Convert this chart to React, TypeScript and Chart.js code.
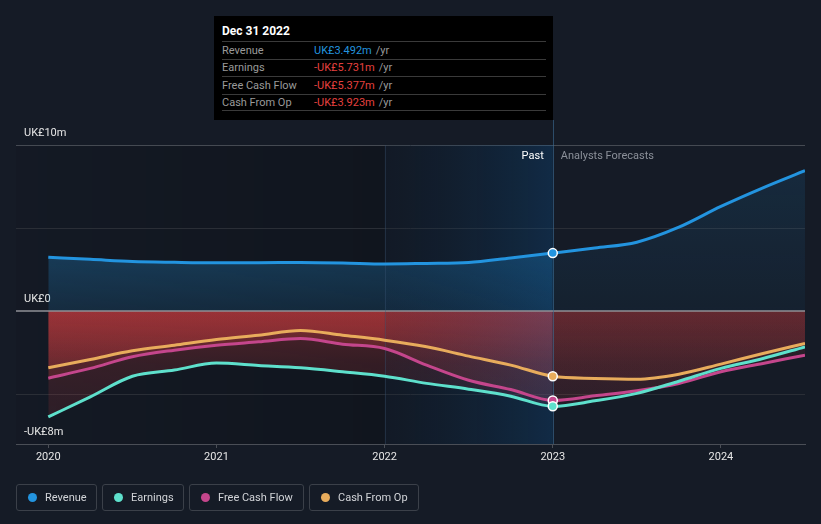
import React, { useEffect, useRef } from "react";
import { Chart, registerables } from "chart.js";

Chart.register(...registerables);

// ---------- data ----------
const years = [
  2020, 2020.25, 2020.5, 2020.75, 2021, 2021.25, 2021.5, 2021.75, 2022, 2022.25,
  2022.5, 2022.75, 2023, 2023.25, 2023.5, 2023.75, 2024, 2024.25, 2024.5,
];
const revenue = [
  3.24, 3.12, 2.99, 2.94, 2.91, 2.91, 2.93, 2.9, 2.84, 2.87, 2.92, 3.2, 3.492,
  3.8, 4.15, 5.05, 6.3, 7.42, 8.45,
];
const earnings = [
  -6.37, -5.16, -3.92, -3.55, -3.13, -3.27, -3.41, -3.65, -3.92, -4.35, -4.7,
  -5.12, -5.731, -5.4, -4.95, -4.22, -3.45, -2.85, -2.15,
];
const freeCashFlow = [
  -4.04, -3.45, -2.75, -2.35, -2.05, -1.85, -1.65, -1.99, -2.25, -3.25, -4.16,
  -4.72, -5.377, -5.1, -4.8, -4.36, -3.65, -3.15, -2.65,
];
const cashFromOp = [
  -3.41, -2.91, -2.39, -2.05, -1.71, -1.45, -1.16, -1.45, -1.75, -2.15, -2.71,
  -3.25, -3.923, -4.05, -4.1, -3.8, -3.19, -2.55, -1.95,
];
const seriesNames = ["Revenue", "Earnings", "Free Cash Flow", "Cash From Op"];
const seriesColors = ["#2394df", "#5ee0cc", "#c4468c", "#e8ac5c"];
const xTicks = [2020, 2021, 2022, 2023, 2024];
const yTicks = [-8, -5, 0, 5, 10];
const yTickLabels: Record<string, string> = { "10": "UK£10m", "0": "UK£0", "-8": "-UK£8m" };
const xMin = 2019.808;
const xMax = 2024.5;
const yMin = -8;
const yMax = 10;
const highlightStart = 2022;
const presentYear = 2023;
const tooltipTitle = "Dec 31 2022";

const allSeries = [revenue, earnings, freeCashFlow, cashFromOp];
const presentIdx = years.indexOf(presentYear);
const legendBoxWidths = [81, 82, 115, 110];

function fmt(v: number) {
  const s = "UK£" + Math.abs(v).toFixed(3) + "m";
  return v < 0 ? "-" + s : s;
}

const FONT = "Roboto, 'Open Sans', sans-serif";

export default function App() {
  const canvasRef = useRef<HTMLCanvasElement | null>(null);

  useEffect(() => {
    const canvas = canvasRef.current;
    if (!canvas) return;
    Chart.defaults.font.family = FONT;

    const grads: Record<string, any> = {};

    const mk = (ctx: CanvasRenderingContext2D, y1: number, y2: number, stops: [number, string][]) => {
      const g = ctx.createLinearGradient(0, y1, 0, y2);
      stops.forEach(([o, c]) => g.addColorStop(o, c));
      return g;
    };

    const decor = {
      id: "decor",
      afterLayout(chart: any) {
        const { ctx, scales } = chart;
        const y0 = scales.y.getPixelForValue(0);
        const yb = scales.y.getPixelForValue(yMin);
        const yr = scales.y.getPixelForValue(3.5);
        const yt = scales.y.getPixelForValue(9);
        grads.redPast = mk(ctx, y0, yb, [
          [0, "rgba(213,62,64,0.33)"],
          [0.4, "rgba(213,62,64,0.18)"],
          [1, "rgba(213,62,64,0.10)"],
        ]);
        grads.redFuture = mk(ctx, y0, yb, [
          [0, "rgba(213,62,64,0.16)"],
          [0.4, "rgba(213,62,64,0.09)"],
          [1, "rgba(213,62,64,0.05)"],
        ]);
        grads.bluePast = mk(ctx, yr, y0, [
          [0, "rgba(35,150,225,0.28)"],
          [1, "rgba(35,150,225,0.15)"],
        ]);
        grads.blueFuture = mk(ctx, yt, y0, [
          [0, "rgba(35,150,225,0.13)"],
          [1, "rgba(35,150,225,0.05)"],
        ]);
      },
      beforeDraw(chart: any) {
        const { ctx, chartArea: a, scales } = chart;
        const xh = scales.x.getPixelForValue(highlightStart);
        ctx.save();
        const g = ctx.createLinearGradient(a.left, 0, xh, 0);
        g.addColorStop(0, "rgba(0,0,0,0.04)");
        g.addColorStop(1, "rgba(0,0,0,0.2)");
        ctx.fillStyle = g;
        ctx.fillRect(a.left, a.top, xh - a.left, a.bottom - a.top);
        ctx.restore();
      },
      beforeDatasetsDraw(chart: any) {
        const { ctx, chartArea: a, scales } = chart;
        const xh = scales.x.getPixelForValue(highlightStart);
        const xp = scales.x.getPixelForValue(presentYear);
        const y0 = scales.y.getPixelForValue(0);
        ctx.save();
        const g = ctx.createLinearGradient(xh, 0, xp, 0);
        g.addColorStop(0, "rgba(0,20,40,0.12)");
        g.addColorStop(1, "rgba(5,95,170,0.24)");
        ctx.fillStyle = g;
        ctx.fillRect(xh, a.top, xp - xh, a.bottom - a.top);
        // zero line
        ctx.strokeStyle = "#8f9196";
        ctx.lineWidth = 1.5;
        ctx.beginPath();
        ctx.moveTo(a.left, y0);
        ctx.lineTo(a.right, y0);
        ctx.stroke();
        // band edge
        ctx.strokeStyle = "rgba(60,90,120,0.35)";
        ctx.lineWidth = 1;
        ctx.beginPath();
        ctx.moveTo(Math.round(xh) + 0.5, a.top);
        ctx.lineTo(Math.round(xh) + 0.5, a.bottom);
        ctx.stroke();
        // present line
        ctx.strokeStyle = "rgba(60,110,150,0.6)";
        ctx.beginPath();
        ctx.moveTo(Math.round(xp) + 0.5, a.top - 25);
        ctx.lineTo(Math.round(xp) + 0.5, a.bottom);
        ctx.stroke();
        // labels
        ctx.font = `11px ${FONT}`;
        ctx.textBaseline = "middle";
        ctx.textAlign = "right";
        ctx.fillStyle = "#ffffff";
        ctx.fillText("Past", xp - 9, a.top + 11);
        ctx.textAlign = "left";
        ctx.fillStyle = "#8b9099";
        ctx.fillText("Analysts Forecasts", xp + 8, a.top + 11);
        ctx.restore();
      },
    };

    const datasets = allSeries.map((vals, i) => {
      const color = seriesColors[i];
      const isRev = i === 0;
      return {
        label: seriesNames[i],
        data: years.map((x, k) => ({ x, y: vals[k] })),
        borderColor: color,
        backgroundColor: color,
        borderWidth: 3,
        fill: "origin",
        cubicInterpolationMode: "monotone" as const,
        pointRadius: years.map((_, k) => (k === presentIdx ? 4.5 : 0)),
        pointBackgroundColor: color,
        pointBorderColor: "#ffffff",
        pointBorderWidth: 1.5,
        order: i === 0 ? 4 : i,
        segment: {
          backgroundColor: (c: any) => {
            const past = c.p0DataIndex < presentIdx;
            if (isRev) return past ? grads.bluePast : grads.blueFuture;
            return past ? grads.redPast : grads.redFuture;
          },
        },
      };
    });

    const chart = new Chart(canvas, {
      type: "line",
      data: { datasets: datasets as any },
      options: {
        animation: false,
        responsive: false,
        events: [],
        layout: { padding: { left: 16, right: 16, top: 145, bottom: 0 } },
        plugins: {
          legend: { display: false },
          tooltip: { enabled: false },
          filler: { drawTime: "beforeDatasetsDraw" } as any,
        },
        scales: {
          x: {
            type: "linear",
            min: xMin,
            max: xMax,
            afterBuildTicks: (s: any) => {
              s.ticks = xTicks.map((v) => ({ value: v }));
            },
            afterFit: (s: any) => {
              s.height = 80;
            },
            grid: {
              drawOnChartArea: false,
              drawTicks: true,
              tickLength: 4,
              color: "#4a4e56",
            },
            border: { display: true, color: "#4a4e56" },
            ticks: {
              padding: 3,
              color: "#e6e6e6",
              font: { size: 11, family: FONT },
              maxRotation: 0,
              autoSkip: false,
              callback: (v: any) => String(v),
            },
          },
          y: {
            type: "linear",
            min: yMin,
            max: yMax,
            afterBuildTicks: (s: any) => {
              s.ticks = yTicks.map((v) => ({ value: v }));
            },
            afterFit: (s: any) => {
              s.width = 0;
            },
            grid: {
              drawTicks: false,
              color: (c: any) => {
                const v = c.tick ? c.tick.value : null;
                if (v === yMax) return "#454a52";
                if (v === 0 || v === yMin) return "rgba(0,0,0,0)";
                return "#2a2e36";
              },
            },
            border: { display: false },
            ticks: {
              mirror: true,
              padding: 8,
              labelOffset: -12,
              color: "#e6e6e6",
              font: { size: 11, family: FONT },
              autoSkip: false,
              callback: (v: any) => yTickLabels[String(v)] ?? "",
            },
          },
        },
      },
      plugins: [decor as any],
    });

    return () => chart.destroy();
  }, []);

  return (
    <div
      style={{
        position: "absolute",
        left: 0,
        top: 0,
        width: 821,
        height: 524,
        background: "#151b26",
        fontFamily: FONT,
        overflow: "hidden",
      }}
    >
      <canvas ref={canvasRef} width={821} height={524} style={{ display: "block" }} />
      {/* tooltip */}
      <div
        style={{
          position: "absolute",
          left: 214,
          top: 16,
          width: 339,
          height: 104,
          background: "#000000",
          boxSizing: "border-box",
          padding: "0 7px 0 8px",
        }}
      >
        <div
          style={{
            height: 25,
            lineHeight: "31px",
            fontSize: 12,
            fontWeight: 700,
            color: "#ffffff",
          }}
        >
          {tooltipTitle}
        </div>
        {seriesNames.map((name, i) => {
          const v = allSeries[i][presentIdx];
          return (
            <div
              key={name}
              style={{
                height: 17.5,
                boxSizing: "border-box",
                borderTop: "1px solid #3a3a3a",
                borderBottom: i === 3 ? "1px solid #3a3a3a" : undefined,
                display: "flex",
                alignItems: "center",
                fontSize: 11,
              }}
            >
              <span style={{ width: 92, color: "#9a9a9a" }}>{name}</span>
              <span style={{ color: v < 0 ? "#e5403f" : "#2394df" }}>{fmt(v)}</span>
              <span style={{ color: "#9a9a9a", marginLeft: 4 }}>/yr</span>
            </div>
          );
        })}
      </div>
      {/* legend */}
      <div
        style={{
          position: "absolute",
          left: 16,
          top: 484,
          display: "flex",
          gap: 5,
        }}
      >
        {seriesNames.map((name, i) => (
          <div
            key={name}
            style={{
              width: legendBoxWidths[i],
              height: 27,
              boxSizing: "border-box",
              border: "1px solid #3b4049",
              borderRadius: 3,
              display: "flex",
              alignItems: "center",
              padding: "0 0 0 11px",
              fontSize: 11,
              color: "#d2d4d8",
              whiteSpace: "nowrap",
              overflow: "hidden",
            }}
          >
            <span
              style={{
                width: 9,
                height: 9,
                flex: "0 0 9px",
                borderRadius: "50%",
                background: seriesColors[i],
                marginRight: 8,
                display: "inline-block",
              }}
            />
            {name}
          </div>
        ))}
      </div>
    </div>
  );
}
